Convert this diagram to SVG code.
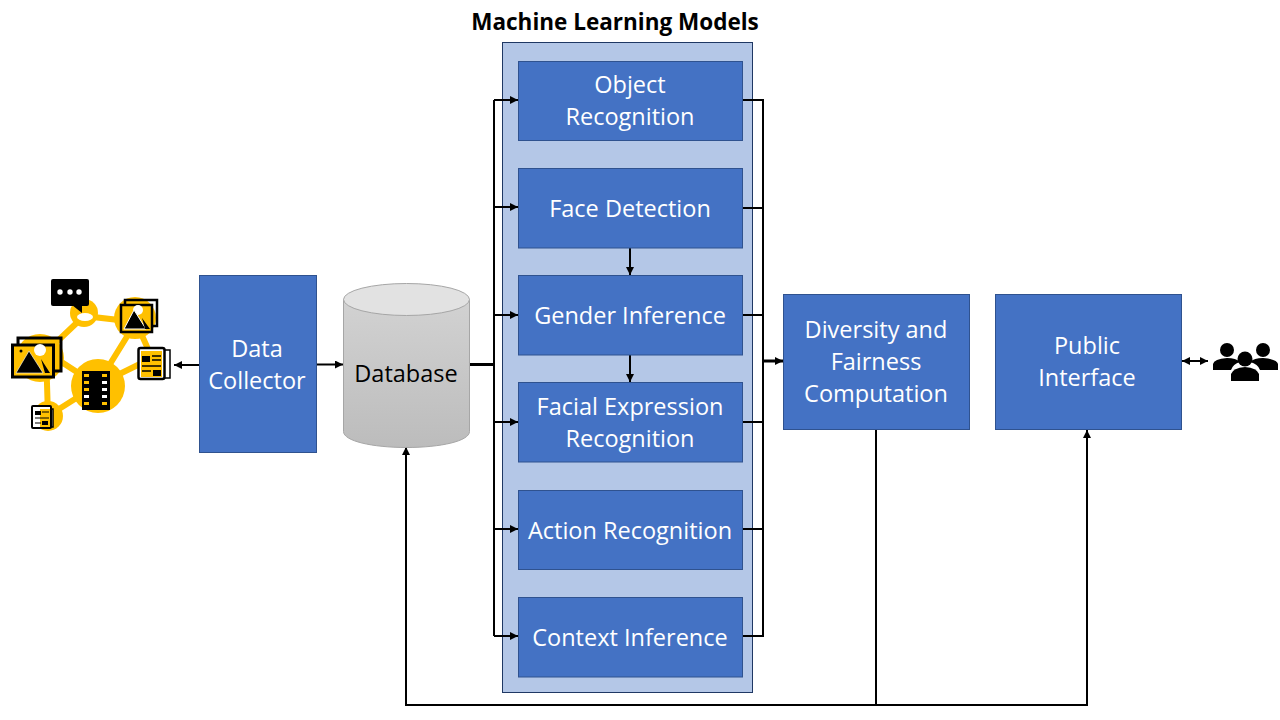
<svg xmlns="http://www.w3.org/2000/svg" width="1280" height="720" viewBox="0 0 1280 720">
<style>
text{font-family:"Open Sans","Noto Sans","Liberation Sans",sans-serif;font-size:23.500px;text-anchor:middle}
.b{fill:#4472c4;stroke:#2f528f;stroke-width:1}
.t{fill:#fff}
.c{fill:none;stroke:#000;stroke-width:2}
.y{fill:#ffc000}
.yl{stroke:#ffc000;stroke-width:6;fill:none}
.k{fill:#000}
</style>
<defs>
<marker id="a" markerUnits="userSpaceOnUse" markerWidth="9" markerHeight="9" refX="8" refY="4" orient="auto-start-reverse"><path d="M0 0L8 4L0 8Z" fill="#000"/></marker>
<linearGradient id="g" x1="0" y1="0" x2="0" y2="1"><stop offset="0" stop-color="#d2d2d2"/><stop offset="1" stop-color="#bcbcbc"/></linearGradient>
</defs>
<rect id="ml-panel" x="502.500" y="42.500" width="250" height="650" fill="#b4c7e7" stroke="#1f3864" stroke-width="1"/>
<text x="615" y="30" style="font-size:22.500px;font-weight:700;fill:#000">Machine Learning Models</text>
<g id="icons">
<path class="yl" d="M46 352L84 316L136 322L97 385L46 352L48 416L97 385L152 358L136 322"/>
<circle class="y" cx="84" cy="313" r="14"/><circle class="y" cx="135" cy="318" r="21"/><circle class="y" cx="40" cy="358" r="24"/><circle class="y" cx="98" cy="386" r="27"/><circle class="y" cx="48" cy="416" r="15"/>
<ellipse cx="85" cy="317" rx="8" ry="4" fill="#fff"/>
<rect class="k" x="51" y="279" width="38" height="27" rx="2"/><path class="k" d="M72 305H82V313Z"/>
<circle cx="60" cy="292" r="2.700" fill="#fff"/><circle cx="70" cy="292" r="2.700" fill="#fff"/><circle cx="79" cy="292" r="2.700" fill="#fff"/>
<rect x="125" y="300" width="32" height="26" fill="none" stroke="#000" stroke-width="2.500"/>
<rect x="121" y="305" width="31" height="27" fill="#ffc000" stroke="#000" stroke-width="2.500"/>
<circle cx="138" cy="310" r="5" fill="#fff"/>
<path d="M124 329L134 310L146 329Z" fill="#000" stroke="#fff"/><path class="k" d="M142 318L150 329H145Z"/>
<rect x="18" y="338" width="43" height="33" fill="none" stroke="#000" stroke-width="3"/>
<rect x="12.500" y="345" width="41" height="32" fill="#ffc000" stroke="#000" stroke-width="3"/>
<circle cx="40" cy="350" r="6" fill="#fff"/>
<path d="M16 373L29 351L43 373Z" fill="#000" stroke="#fff" stroke-width=".6"/><path class="k" d="M41 359L50 373H45Z"/><circle class="k" cx="21" cy="351" r="1.500"/>
<rect class="k" x="82" y="371" width="28" height="39"/>
<g fill="#ffc000"><rect x="84" y="374" width="5" height="3"/><rect x="84" y="381" width="5" height="3"/><rect x="84" y="388" width="5" height="3"/><rect x="102" y="374" width="5" height="3"/><rect x="102" y="402" width="5" height="3"/><rect x="84" y="402" width="5" height="3"/></g>
<g fill="#fff"><rect x="84" y="395" width="5" height="3"/><rect x="102" y="381" width="5" height="3"/><rect x="102" y="388" width="5" height="3"/><rect x="102" y="395" width="5" height="3"/></g>
<rect x="164" y="350" width="6" height="28" fill="#fff" stroke="#000" stroke-width="1.500"/>
<rect x="138.500" y="348" width="26" height="31" rx="2" fill="#fff" stroke="#000" stroke-width="2.500"/>
<rect x="141" y="351" width="21" height="26" fill="#ffc000"/>
<rect class="k" x="142" y="356" width="8" height="6"/><rect class="k" x="153" y="370" width="8" height="6"/><path d="M152 356H161M152 360H161M142 366H161M142 371H151" stroke="#000" stroke-width="1.500"/>
<rect x="48" y="409" width="5" height="18" fill="#fff" stroke="#000" stroke-width="1.500"/>
<rect x="32" y="406" width="19" height="22" rx="1" fill="#fff" stroke="#000" stroke-width="2"/>
<rect x="40" y="409" width="10" height="18" fill="#ffc000"/>
<rect class="k" x="35" y="411" width="6" height="4"/><rect class="k" x="42" y="421" width="6" height="4"/><path d="M42 412H49M35 418H49M35 423H41" stroke="#000" stroke-width="1.200"/>
<g class="k"><circle cx="1227" cy="350" r="7"/><path d="M1213 370V364Q1214 359 1227 358Q1236 358 1240 362Q1233 364 1231 370Z"/><circle cx="1263" cy="350" r="7"/><path d="M1278 370V364Q1277 359 1263 358Q1254 358 1250 362Q1258 364 1260 370Z"/><circle cx="1245" cy="359" r="7.500"/><path d="M1231 381V374Q1233 368 1245 367Q1257 368 1259 374V381Z"/></g>
</g>
<g id="connectors">
<path class="c" d="M199 365H174" marker-end="url(#a)"/>
<path class="c" d="M317 364.500H343" marker-end="url(#a)"/>
<path d="M470 364.500H494" fill="none" stroke="#000" stroke-width="3"/>
<path class="c" d="M494 100V636"/>
<path class="c" d="M494 100H518" marker-end="url(#a)"/>
<path class="c" d="M494 207H518" marker-end="url(#a)"/>
<path class="c" d="M494 315H518" marker-end="url(#a)"/>
<path class="c" d="M494 422H518" marker-end="url(#a)"/>
<path class="c" d="M494 529H518" marker-end="url(#a)"/>
<path class="c" d="M494 636H518" marker-end="url(#a)"/>
<path class="c" d="M630 248V275" marker-end="url(#a)"/>
<path class="c" d="M630 355V382" marker-end="url(#a)"/>
<path class="c" d="M743 100H763M743 208H763M743 315H763M743 422H763M743 529H763M743 636H763M763 99V637"/>
<path d="M763 361H783" fill="none" stroke="#000" stroke-width="3" marker-end="url(#a)"/>
<path class="c" d="M876 430V705"/>
<path class="c" d="M876 705H406V447" marker-end="url(#a)"/>
<path class="c" d="M876 705H1087V430" marker-end="url(#a)"/>
<path class="c" d="M1182 361H1208" marker-start="url(#a)" marker-end="url(#a)"/>
</g>
<g id="data-collector"><rect class="b" x="199.500" y="275.500" width="117" height="177"/><text class="t" x="257" y="357">Data</text><text class="t" x="257" y="389">Collector</text></g>
<g id="database">
<path d="M343.500 299.500V431.500C343.500 441 372 447.500 406.500 447.500S469.500 441 469.500 431.500V299.500Z" fill="url(#g)" stroke="#a6a6a6"/>
<ellipse cx="406.500" cy="299.500" rx="63" ry="16" fill="#e2e2e2" stroke="#a6a6a6"/>
<text x="406" y="382" fill="#000">Database</text></g>
<g id="object-recognition"><rect class="b" x="518.500" y="61.500" width="224" height="79"/><text class="t" x="630" y="93">Object</text><text class="t" x="630" y="125">Recognition</text></g>
<g id="face-detection"><rect class="b" x="518.500" y="168.500" width="224" height="79.500"/><text class="t" x="630" y="217">Face Detection</text></g>
<g id="gender-inference"><rect class="b" x="518.500" y="275.500" width="224" height="79.500"/><text class="t" x="630" y="324">Gender Inference</text></g>
<g id="facial-expression"><rect class="b" x="518.500" y="382.500" width="224" height="79.500"/><text class="t" x="630" y="415">Facial Expression</text><text class="t" x="630" y="447">Recognition</text></g>
<g id="action-recognition"><rect class="b" x="518.500" y="490.500" width="224" height="79"/><text class="t" x="630" y="539">Action Recognition</text></g>
<g id="context-inference"><rect class="b" x="518.500" y="597.500" width="224" height="79.500"/><text class="t" x="630" y="646">Context Inference</text></g>
<g id="diversity"><rect class="b" x="783.500" y="294.500" width="186" height="135"/><text class="t" x="876" y="338">Diversity and</text><text class="t" x="876" y="370">Fairness</text><text class="t" x="876" y="402">Computation</text></g>
<g id="public-interface"><rect class="b" x="995.500" y="294.500" width="186" height="135"/><text class="t" x="1087" y="354">Public</text><text class="t" x="1087" y="386">Interface</text></g>
</svg>
